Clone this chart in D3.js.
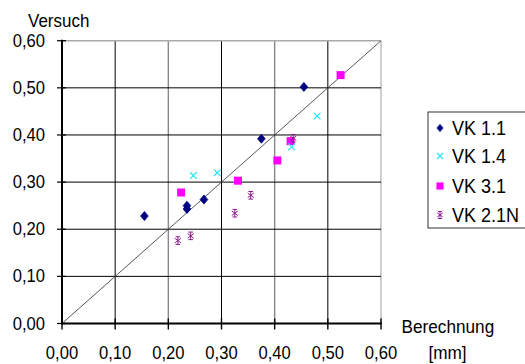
<!DOCTYPE html>
<html><head><meta charset="utf-8">
<script src="https://cdn.jsdelivr.net/npm/d3@7"></script>
<style>
html,body{margin:0;padding:0;background:#fff;}
svg{display:block;font-family:"Liberation Sans",Arial,sans-serif;}
</style></head>
<body>
<svg id="c" width="525" height="364"></svg>
<script>
// ---- data ----
const seriesNames = ["VK 1.1", "VK 1.4", "VK 3.1", "VK 2.1N"];
const vk11X = [0.155, 0.235, 0.235, 0.267, 0.375, 0.455];
const vk11Y = [0.228, 0.243, 0.250, 0.263, 0.392, 0.502];
const vk14X = [0.247, 0.292, 0.432, 0.480];
const vk14Y = [0.314, 0.320, 0.375, 0.440];
const vk31X = [0.224, 0.331, 0.405, 0.430, 0.524];
const vk31Y = [0.278, 0.303, 0.346, 0.387, 0.527];
const vk21X = [0.218, 0.242, 0.325, 0.355, 0.435];
const vk21Y = [0.176, 0.186, 0.234, 0.272, 0.393];
const tickValues = [0, 0.1, 0.2, 0.3, 0.4, 0.5, 0.6];
const tickLabels = ["0,00", "0,10", "0,20", "0,30", "0,40", "0,50", "0,60"];
const xTitle = ["Berechnung", "[mm]"];
const yTitle = "Versuch";

const svg = d3.select("#c");
const x = d3.scaleLinear().domain([0, 0.6]).range([62, 381]);
const y = d3.scaleLinear().domain([0, 0.6]).range([323.5, 40.7]);

// grid
const vColor = ["none", "#000", "#888", "#000", "#888", "#000", "#bbb"];
const vWidth = [0, 1, 1.4, 1, 1.4, 1, 1.4];
tickValues.forEach((t, i) => {
  if (i > 0) svg.append("line").attr("x1", x(t)).attr("x2", x(t)).attr("y1", y(0)).attr("y2", y(0.6))
    .attr("stroke", vColor[i]).attr("stroke-width", vWidth[i]);
});
tickValues.forEach((t, i) => {
  if (i > 0) svg.append("line").attr("x1", x(0)).attr("x2", x(0.6)).attr("y1", y(t)).attr("y2", y(t))
    .attr("stroke", i === 6 ? "#aaa" : "#000").attr("stroke-width", i === 6 ? 1.4 : 1);
});

// diagonal
svg.append("line").attr("x1", x(0)).attr("y1", y(0)).attr("x2", x(0.6)).attr("y2", y(0.6))
  .attr("stroke", "#444").attr("stroke-width", 0.9);

// axes
svg.append("line").attr("x1", x(0)).attr("x2", x(0)).attr("y1", y(0.6) - 1).attr("y2", y(0) + 1)
  .attr("stroke", "#000").attr("stroke-width", 2);
svg.append("line").attr("x1", x(0) - 1).attr("x2", x(0.6) + 1).attr("y1", y(0)).attr("y2", y(0))
  .attr("stroke", "#000").attr("stroke-width", 2.2);
tickValues.forEach(t => {
  svg.append("line").attr("x1", x(0) - 5).attr("x2", x(0) + 4).attr("y1", y(t)).attr("y2", y(t))
    .attr("stroke", "#000").attr("stroke-width", 1.2);
  svg.append("line").attr("x1", x(t)).attr("x2", x(t)).attr("y1", y(0) - 5).attr("y2", y(0) + 6)
    .attr("stroke", "#000").attr("stroke-width", 1.4);
});

function label(tx, ty, s, anchor, size, sy) {
  svg.append("text").attr("transform", `translate(${tx},${ty}) scale(1,${sy})`)
    .attr("text-anchor", anchor).attr("font-size", size).attr("fill", "#000").text(s);
}
tickValues.forEach((t, i) => {
  label(45, y(t) + 6, tickLabels[i], "end", 16.6, 1.12);
  label(x(t), 359, tickLabels[i], "middle", 16.6, 1.12);
});
label(28, 26.5, yTitle, "start", 17, 1.12);
label(401.5, 333, xTitle[0], "start", 17.2, 1.12);
label(447.5, 359, xTitle[1], "middle", 17.2, 1.12);

// markers
function diamond(g, cx, cy, s) {
  g.append("path").attr("d", `M${cx},${cy - s} L${cx + s * 0.85},${cy} L${cx},${cy + s} L${cx - s * 0.85},${cy}Z`)
    .attr("fill", "#000080").attr("stroke", "#000080").attr("stroke-width", 0.8).attr("stroke-linejoin", "round");
}
function cross(g, cx, cy, s) {
  g.append("path").attr("d", `M${cx - s},${cy - s} L${cx + s},${cy + s} M${cx - s},${cy + s} L${cx + s},${cy - s}`)
    .attr("stroke", "#22e6f0").attr("stroke-width", 1.2).attr("fill", "none");
}
function square(g, cx, cy, s) {
  g.append("rect").attr("x", cx - s).attr("y", cy - s).attr("width", 2 * s).attr("height", 2 * s).attr("fill", "#ff00ff");
}
function star(g, cx, cy, s) {
  g.append("path").attr("d",
    `M${cx},${cy - s} L${cx},${cy + s} M${cx - s * 0.8},${cy - s * 0.6} L${cx + s * 0.8},${cy + s * 0.6} M${cx - s * 0.8},${cy + s * 0.6} L${cx + s * 0.8},${cy - s * 0.6} M${cx - s * 0.6},${cy - s} L${cx + s * 0.6},${cy - s} M${cx - s * 0.6},${cy + s} L${cx + s * 0.6},${cy + s}`)
    .attr("stroke", "#8b1a8b").attr("stroke-width", 1).attr("fill", "none");
}
const pts = svg.append("g");
vk11X.forEach((v, i) => diamond(pts, x(v), y(vk11Y[i]), 4.5));
vk31X.forEach((v, i) => square(pts, x(v), y(vk31Y[i]), 4));
vk14X.forEach((v, i) => cross(pts, x(v), y(vk14Y[i]), 3.3));
vk21X.forEach((v, i) => star(pts, x(v), y(vk21Y[i]), 3.8));

// legend
const lg = svg.append("g");
lg.append("rect").attr("x", 428).attr("y", 112).attr("width", 110).attr("height", 116)
  .attr("fill", "#fff").attr("stroke", "#333").attr("stroke-width", 1);
const ly = [128, 156, 186, 215];
const drawers = [diamond, cross, square, star];
const sizes = [3.6, 3, 3.6, 3.5];
seriesNames.forEach((n, i) => {
  drawers[i](lg, 440, ly[i], sizes[i]);
  svg.append("text").attr("transform", `translate(452,${ly[i] + 7}) scale(1,1.14)`)
    .attr("font-size", 18).attr("fill", "#000").text(n);
});
</script>
</body></html>
